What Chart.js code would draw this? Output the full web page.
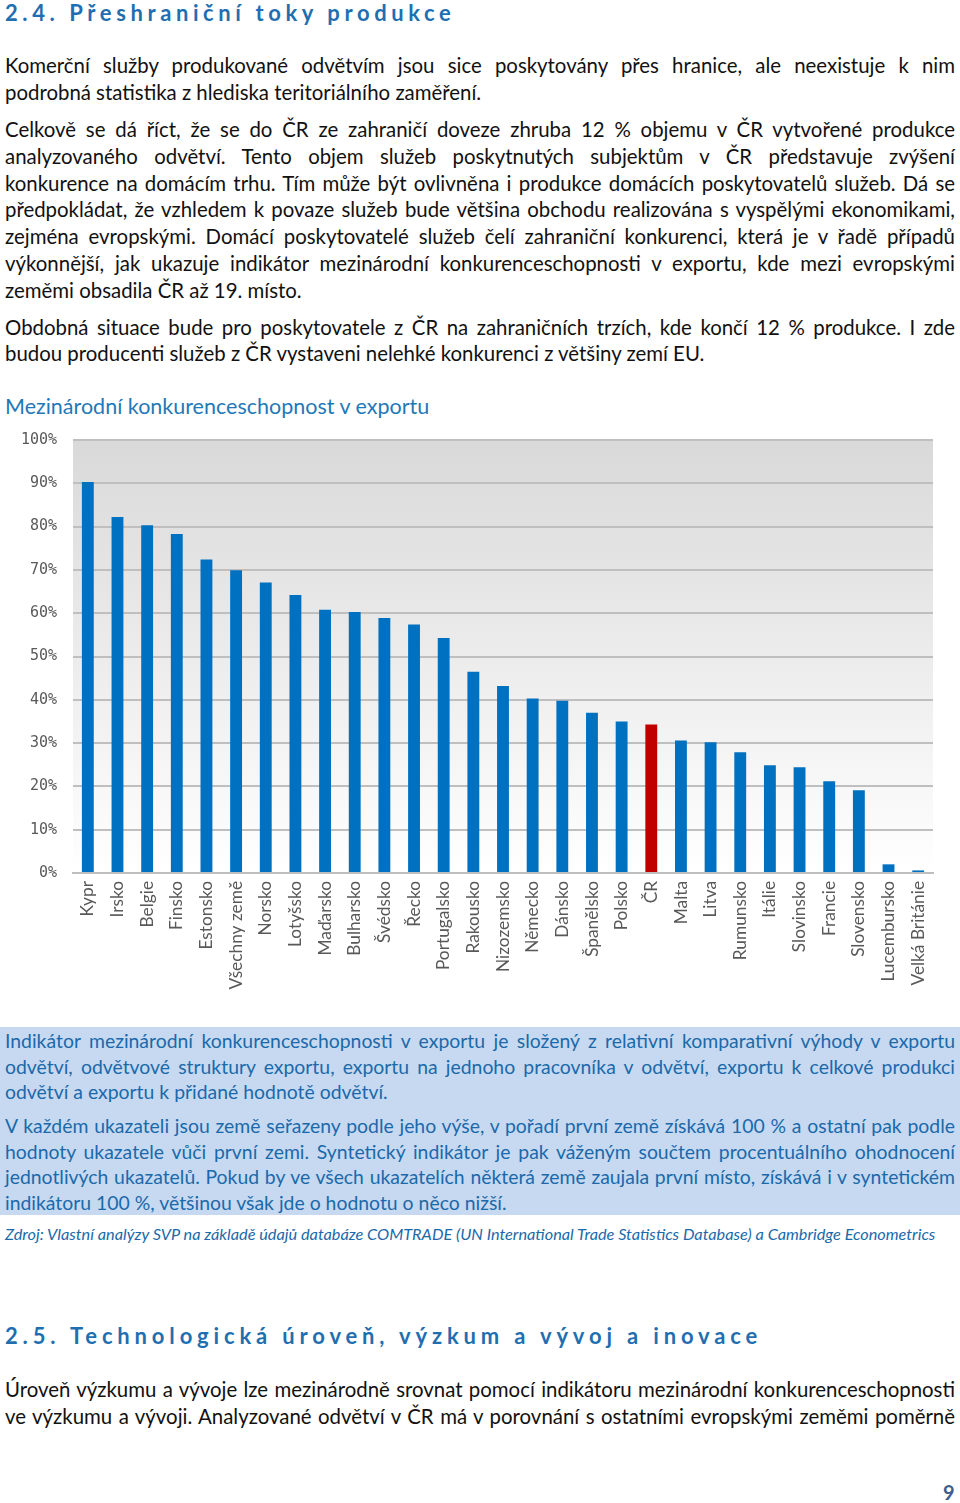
<!DOCTYPE html>
<html><head><meta charset="utf-8">
<script src="https://cdn.jsdelivr.net/npm/chart.js@4"></script>
<style>
html,body{margin:0;padding:0;background:#fff;}
body{width:960px;height:1503px;position:relative;overflow:hidden;font-family:Lato,"Open Sans",sans-serif;}
.ln{position:absolute;left:5px;width:950px;font-size:20.4px;line-height:24px;white-space:nowrap;color:#111;}
.j{text-align:justify;text-align-last:justify;white-space:normal;}
.h{position:absolute;left:5px;font-weight:bold;color:#1f6fb0;font-size:22px;line-height:26px;letter-spacing:4.6px;white-space:nowrap;}
.box{position:absolute;left:0;top:1027px;width:960px;height:188px;background:#c6d9f1;}
.bl{color:#1b69aa;font-size:19.4px;}
</style></head><body>
<div class="h" style="top:0px">2.4. Přeshraniční toky produkce</div>
<div class="ln j" style="top:53px">Komerční služby produkované odvětvím jsou sice poskytovány přes hranice, ale neexistuje k nim</div>
<div class="ln" style="top:80px">podrobná statistika z hlediska teritoriálního zaměření.</div>
<div class="ln j" style="top:117px">Celkově se dá říct, že se do ČR ze zahraničí doveze zhruba 12 % objemu v ČR vytvořené produkce</div>
<div class="ln j" style="top:144px">analyzovaného odvětví. Tento objem služeb poskytnutých subjektům v ČR představuje zvýšení</div>
<div class="ln j" style="top:171px">konkurence na domácím trhu. Tím může být ovlivněna i produkce domácích poskytovatelů služeb. Dá se</div>
<div class="ln j" style="top:197px">předpokládat, že vzhledem k povaze služeb bude většina obchodu realizována s vyspělými ekonomikami,</div>
<div class="ln j" style="top:224px">zejména evropskými. Domácí poskytovatelé služeb čelí zahraniční konkurenci, která je v řadě případů</div>
<div class="ln j" style="top:251px">výkonnější, jak ukazuje indikátor mezinárodní konkurenceschopnosti v exportu, kde mezi evropskými</div>
<div class="ln" style="top:278px">zeměmi obsadila ČR až 19. místo.</div>
<div class="ln j" style="top:315px">Obdobná situace bude pro poskytovatele z ČR na zahraničních trzích, kde končí 12 % produkce. I zde</div>
<div class="ln" style="top:341px">budou producenti služeb z ČR vystaveni nelehké konkurenci z většiny zemí EU.</div>
<div class="ln" style="top:393px;font-size:21.5px;color:#1f78b8;line-height:26px">Mezinárodní konkurenceschopnost v exportu</div>

<div style="position:absolute;left:0;top:415px;width:960px;height:585px;"><canvas id="c"></canvas></div>

<div class="box"></div>
<div class="ln j bl" style="top:1029px">Indikátor mezinárodní konkurenceschopnosti v exportu je složený z relativní komparativní výhody v exportu</div>
<div class="ln j bl" style="top:1055px">odvětví, odvětvové struktury exportu, exportu na jednoho pracovníka v odvětví, exportu k celkové produkci</div>
<div class="ln bl" style="top:1080px">odvětví a exportu k přidané hodnotě odvětví.</div>
<div class="ln j bl" style="top:1114px">V každém ukazateli jsou země seřazeny podle jeho výše, v pořadí první země získává 100 % a ostatní pak podle</div>
<div class="ln j bl" style="top:1140px">hodnoty ukazatele vůči první zemi. Syntetický indikátor je pak váženým součtem procentuálního ohodnocení</div>
<div class="ln j bl" style="top:1165px">jednotlivých ukazatelů. Pokud by ve všech ukazatelích některá země zaujala první místo, získává i v syntetickém</div>
<div class="ln bl" style="top:1191px">indikátoru 100 %, většinou však jde o hodnotu o něco nižší.</div>
<div class="ln" style="top:1222px;font-size:16.3px;font-style:italic;color:#1b69aa;">Zdroj: Vlastní analýzy SVP na základě údajů databáze COMTRADE (UN International Trade Statistics Database) a Cambridge Econometrics</div>

<div class="h" style="top:1323px;letter-spacing:4.85px">2.5. Technologická úroveň, výzkum a vývoj a inovace</div>
<div class="ln j" style="top:1377px">Úroveň výzkumu a vývoje lze mezinárodně srovnat pomocí indikátoru mezinárodní konkurenceschopnosti</div>
<div class="ln j" style="top:1404px">ve výzkumu a vývoji. Analyzované odvětví v ČR má v porovnání s ostatními evropskými zeměmi poměrně</div>
<div style="position:absolute;left:943px;top:1480px;font-size:20px;font-weight:bold;color:#3b5e8c;">9</div>

<script>
const categories = ["Kypr","Irsko","Belgie","Finsko","Estonsko","Všechny země","Norsko","Lotyšsko","Maďarsko","Bulharsko","Švédsko","Řecko","Portugalsko","Rakousko","Nizozemsko","Německo","Dánsko","Španělsko","Polsko","ČR","Malta","Litva","Rumunsko","Itálie","Slovinsko","Francie","Slovensko","Lucembursko","Velká Británie"];
const values = [90.3,82.2,80.3,78.3,72.4,69.9,67.1,64.2,60.8,60.3,58.9,57.4,54.3,46.5,43.2,40.3,39.8,37.0,35.0,34.3,30.6,30.2,27.9,24.9,24.4,21.2,19.1,2.0,0.6];
const highlight = "ČR";
const yTicks = [0,10,20,30,40,50,60,70,80,90,100];

const bgPlugin = {
  id:'bg',
  beforeDraw(chart){
    const {ctx, chartArea:a} = chart;
    const g = ctx.createLinearGradient(0,a.top,0,a.bottom);
    g.addColorStop(0,'#d9d9d9');
    g.addColorStop(1,'#ffffff');
    ctx.save(); ctx.fillStyle=g; ctx.fillRect(a.left,a.top,a.right-a.left,a.bottom-a.top); ctx.restore();
  }
};

new Chart(document.getElementById('c'), {
  type:'bar',
  data:{labels:categories,datasets:[{data:values,
    backgroundColor:categories.map(c=>c===highlight?'#c00000':'#0070c0'),
    barPercentage:0.4,categoryPercentage:1}]},
  plugins:[bgPlugin],
  options:{
    responsive:true,maintainAspectRatio:false,animation:false,
    layout:{padding:{top:13,right:27,left:0,bottom:0}},
    plugins:{legend:{display:false},tooltip:{enabled:false}},
    scales:{
      x:{grid:{display:false,drawTicks:false},border:{display:true,color:'#bfbfbf',width:2},
        ticks:{minRotation:90,maxRotation:90,autoSkip:false,padding:8,color:'#595959',font:{family:'Lato',size:17.3}},
        afterFit(s){s.height=127;}},
      y:{min:0,max:100,
        afterBuildTicks(s){s.ticks=yTicks.map(v=>({value:v}));},
        grid:{color:'#bfbfbf',lineWidth:2,drawTicks:false},border:{display:false},
        ticks:{padding:16,color:'#5a5a5a',font:{family:'DejaVu Sans Mono',size:15},callback:v=>v+'%'},
        afterFit(s){s.width=73;}}
    }
  }
});
</script>
</body></html>
